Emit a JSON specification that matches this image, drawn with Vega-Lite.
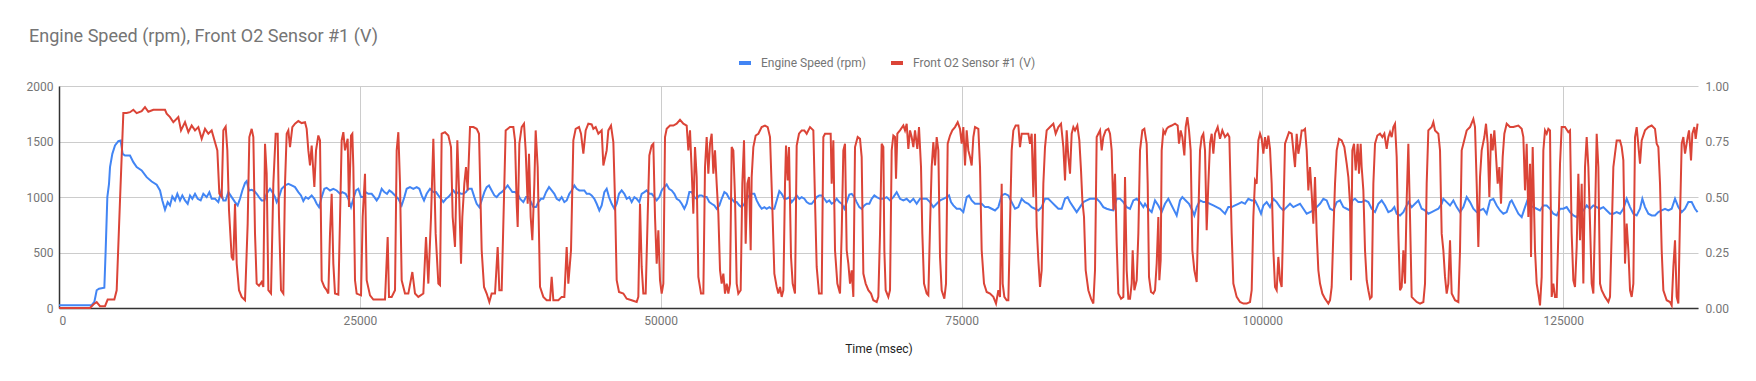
{
"$schema": "https://vega.github.io/schema/vega-lite/v6.json",
"width": 1639,
"height": 222,
"autosize": {"type": "none"},
"padding": {"left": 59, "top": 86, "right": 58, "bottom": 73},
"background": "white",
"title": {"text": "Engine Speed (rpm), Front O2 Sensor #1 (V)", "anchor": "start", "fontSize": 18, "font": "Roboto", "fontWeight": "normal", "color": "#757575", "dx": 3, "offset": 9},
"config": {"font": "Roboto", "view": {"stroke": null}},
"datasets": {
"rpm": [
{"t":0,"v":25},{"t":2715,"v":25},{"t":2937,"v":54},{"t":3131,"v":160},{"t":3324,"v":174},{"t":3768,"v":183},{"t":3878,"v":519},{"t":4017,"v":999},{"t":4155,"v":1119},{"t":4239,"v":1269},{"t":4432,"v":1389},{"t":4654,"v":1464},{"t":4931,"v":1503},{"t":5125,"v":1509},{"t":5291,"v":1389},{"t":5485,"v":1374},{"t":5900,"v":1374},{"t":6178,"v":1314},{"t":6455,"v":1269},{"t":6870,"v":1239},{"t":7286,"v":1179},{"t":7701,"v":1140},{"t":8117,"v":1110},{"t":8394,"v":1059},{"t":8587,"v":969},{"t":8809,"v":885},{"t":9031,"v":954},{"t":9225,"v":924},{"t":9418,"v":1005},{"t":9640,"v":969},{"t":9834,"v":1029},{"t":10056,"v":969},{"t":10250,"v":1014},{"t":10471,"v":969},{"t":10693,"v":939},{"t":10887,"v":1014},{"t":11081,"v":984},{"t":11302,"v":1029},{"t":11524,"v":984},{"t":11773,"v":969},{"t":11994,"v":1029},{"t":12272,"v":999},{"t":12493,"v":1044},{"t":12687,"v":984},{"t":12964,"v":984},{"t":13241,"v":954},{"t":13463,"v":1044},{"t":13657,"v":969},{"t":13850,"v":969},{"t":14072,"v":1044},{"t":14349,"v":999},{"t":14626,"v":954},{"t":14848,"v":924},{"t":15042,"v":984},{"t":15236,"v":1059},{"t":15457,"v":1125},{"t":15596,"v":1143},{"t":15790,"v":1059},{"t":16011,"v":1065},{"t":16233,"v":1053},{"t":16427,"v":1029},{"t":16620,"v":999},{"t":16842,"v":969},{"t":17064,"v":969},{"t":17258,"v":1029},{"t":17535,"v":1074},{"t":17728,"v":1044},{"t":17950,"v":999},{"t":18089,"v":954},{"t":18282,"v":999},{"t":18504,"v":1074},{"t":18781,"v":1104},{"t":19058,"v":1119},{"t":19335,"v":1104},{"t":19612,"v":1089},{"t":19889,"v":1044},{"t":20111,"v":1014},{"t":20304,"v":963},{"t":20498,"v":999},{"t":20720,"v":984},{"t":20997,"v":1014},{"t":21219,"v":984},{"t":21413,"v":939},{"t":21607,"v":909},{"t":21828,"v":999},{"t":22050,"v":1074},{"t":22244,"v":1083},{"t":22521,"v":1059},
{"t":22797,"v":1074},{"t":23074,"v":1059},{"t":23352,"v":1029},{"t":23545,"v":1044},{"t":23822,"v":1029},{"t":24044,"v":984},{"t":24266,"v":909},{"t":24460,"v":984},{"t":24681,"v":1059},{"t":24875,"v":1074},{"t":25097,"v":999},{"t":25291,"v":999},{"t":25485,"v":1044},{"t":25706,"v":1029},{"t":25983,"v":1029},{"t":26205,"v":999},{"t":26399,"v":969},{"t":26592,"v":999},{"t":26814,"v":1074},{"t":27036,"v":1044},{"t":27257,"v":1029},{"t":27451,"v":1059},{"t":27645,"v":1044},{"t":27922,"v":1014},{"t":28199,"v":984},{"t":28476,"v":924},{"t":28698,"v":999},{"t":28892,"v":1074},{"t":29169,"v":1089},{"t":29446,"v":1074},{"t":29722,"v":1089},{"t":29944,"v":1074},{"t":30138,"v":1014},{"t":30332,"v":969},{"t":30553,"v":1029},{"t":30830,"v":1074},{"t":31108,"v":1044},{"t":31329,"v":1044},{"t":31523,"v":1014},{"t":31745,"v":984},{"t":31939,"v":954},{"t":32160,"v":984},{"t":32354,"v":999},{"t":32576,"v":1029},{"t":32770,"v":1059},{"t":32991,"v":1029},{"t":33185,"v":1044},{"t":33407,"v":1029},{"t":33600,"v":1029},{"t":33822,"v":1044},{"t":34016,"v":1074},{"t":34293,"v":1074},{"t":34515,"v":999},{"t":34709,"v":939},{"t":34930,"v":909},{"t":35124,"v":969},{"t":35346,"v":1044},{"t":35540,"v":1089},{"t":35733,"v":1104},{"t":35955,"v":1059},{"t":36177,"v":1014},{"t":36370,"v":999},{"t":36592,"v":1029},{"t":36786,"v":1044},{"t":37063,"v":1074},{"t":37285,"v":1104},{"t":37479,"v":1074},{"t":37672,"v":1044},{"t":37894,"v":1044},{"t":38116,"v":1029},{"t":38310,"v":984},{"t":38587,"v":954},{"t":38808,"v":999},{"t":39002,"v":999},{"t":39224,"v":954},{"t":39418,"v":909},{"t":39639,"v":909},{"t":39833,"v":954},{"t":40055,"v":984},{"t":40249,"v":984},{"t":40471,"v":1044},{"t":40720,"v":1089},{"t":40941,"v":1059},{"t":41163,"v":1029},{"t":41357,"v":984},{"t":41578,"v":969},{"t":41772,"v":999},{"t":41994,"v":954},{"t":42188,"v":969},{"t":42409,"v":1029},{"t":42603,"v":1059},{"t":42825,"v":1104},{"t":43019,"v":1074},{"t":43240,"v":1059},{"t":43434,"v":1059},{"t":43656,"v":1059},{"t":43850,"v":1029},{"t":44071,"v":1029},{"t":44265,"v":1014},{"t":44487,"v":984},{"t":44681,"v":939},{"t":44902,"v":879},{"t":45096,"v":924},{"t":45318,"v":1044},
{"t":45512,"v":1074},{"t":45706,"v":999},{"t":45927,"v":939},{"t":46149,"v":894},{"t":46343,"v":939},{"t":46537,"v":1029},{"t":46758,"v":1059},{"t":46980,"v":1029},{"t":47174,"v":984},{"t":47395,"v":999},{"t":47589,"v":954},{"t":47811,"v":999},{"t":48005,"v":984},{"t":48226,"v":954},{"t":48420,"v":1029},{"t":48642,"v":1044},{"t":48836,"v":1059},{"t":49057,"v":1029},{"t":49251,"v":1029},{"t":49473,"v":999},{"t":49667,"v":969},{"t":49888,"v":999},{"t":50082,"v":1059},{"t":50304,"v":1089},{"t":50498,"v":1113},{"t":50691,"v":1074},{"t":50913,"v":1059},{"t":51135,"v":1029},{"t":51329,"v":984},{"t":51550,"v":969},{"t":51744,"v":939},{"t":51966,"v":894},{"t":52160,"v":939},{"t":52381,"v":1044},{"t":52575,"v":1044},{"t":52797,"v":999},{"t":52991,"v":984},{"t":53212,"v":1014},{"t":53406,"v":1014},{"t":53628,"v":999},{"t":53822,"v":999},{"t":54043,"v":954},{"t":54237,"v":939},{"t":54459,"v":924},{"t":54653,"v":894},{"t":54874,"v":924},{"t":55068,"v":984},{"t":55290,"v":1044},{"t":55484,"v":1029},{"t":55705,"v":984},{"t":55899,"v":984},{"t":56121,"v":954},{"t":56315,"v":954},{"t":56536,"v":924},{"t":56730,"v":909},{"t":56952,"v":939},{"t":57146,"v":984},{"t":57367,"v":1014},{"t":57561,"v":1029},{"t":57783,"v":1029},{"t":57977,"v":969},{"t":58198,"v":924},{"t":58392,"v":894},{"t":58614,"v":909},{"t":58808,"v":894},{"t":59030,"v":909},{"t":59223,"v":894},{"t":59445,"v":894},{"t":59639,"v":969},{"t":59860,"v":1053},{"t":60054,"v":1029},{"t":60276,"v":984},{"t":60470,"v":984},{"t":60691,"v":999},{"t":60885,"v":954},{"t":61107,"v":984},{"t":61301,"v":1014},{"t":61522,"v":984},{"t":61716,"v":999},{"t":61938,"v":984},{"t":62132,"v":954},{"t":62353,"v":939},{"t":62547,"v":939},{"t":62769,"v":969},{"t":62963,"v":999},{"t":63184,"v":1014},{"t":63378,"v":1014},{"t":63600,"v":984},{"t":63794,"v":954},{"t":64015,"v":969},{"t":64209,"v":939},{"t":64431,"v":954},{"t":64625,"v":984},{"t":64846,"v":954},{"t":65040,"v":939},{"t":65262,"v":894},{"t":65456,"v":954},{"t":65677,"v":1023},{"t":65871,"v":1029},{"t":66093,"v":999},{"t":66287,"v":954},{"t":66508,"v":909},{"t":66702,"v":894},{"t":66924,"v":924},{"t":67118,"v":939},{"t":67340,"v":939},{"t":67533,"v":984},{"t":67755,"v":1014},
{"t":67949,"v":999},{"t":68226,"v":984},{"t":68503,"v":984},{"t":68780,"v":999},{"t":69057,"v":969},{"t":69334,"v":999},{"t":69611,"v":1044},{"t":69888,"v":984},{"t":70165,"v":969},{"t":70442,"v":984},{"t":70719,"v":954},{"t":70996,"v":984},{"t":71273,"v":939},{"t":71550,"v":984},{"t":71827,"v":984},{"t":72104,"v":984},{"t":72381,"v":954},{"t":72658,"v":909},{"t":72935,"v":939},{"t":73212,"v":969},{"t":73489,"v":984},{"t":73766,"v":999},{"t":73959,"v":1014},{"t":74126,"v":954},{"t":74320,"v":924},{"t":74597,"v":894},{"t":74874,"v":894},{"t":75151,"v":864},{"t":75428,"v":999},{"t":75621,"v":1014},{"t":75843,"v":969},{"t":76120,"v":939},{"t":76397,"v":939},{"t":76674,"v":939},{"t":76951,"v":909},{"t":77228,"v":909},{"t":77505,"v":894},{"t":77782,"v":879},{"t":78059,"v":909},{"t":78336,"v":1014},{"t":78613,"v":1029},{"t":78890,"v":1014},{"t":79167,"v":954},{"t":79444,"v":894},{"t":79721,"v":909},{"t":79998,"v":984},{"t":80275,"v":954},{"t":80552,"v":939},{"t":80829,"v":909},{"t":81106,"v":894},{"t":81383,"v":879},{"t":81660,"v":909},{"t":81937,"v":984},{"t":82214,"v":984},{"t":82491,"v":954},{"t":82768,"v":924},{"t":83045,"v":894},{"t":83322,"v":894},{"t":83599,"v":984},{"t":83821,"v":999},{"t":84015,"v":954},{"t":84292,"v":909},{"t":84569,"v":864},{"t":84846,"v":909},{"t":85123,"v":954},{"t":85400,"v":969},{"t":85677,"v":984},{"t":85954,"v":984},{"t":86231,"v":984},{"t":86508,"v":954},{"t":86785,"v":909},{"t":87062,"v":894},{"t":87339,"v":885},{"t":87616,"v":879},{"t":87893,"v":984},{"t":88170,"v":984},{"t":88447,"v":954},{"t":88724,"v":909},{"t":89001,"v":894},{"t":89278,"v":969},{"t":89555,"v":984},{"t":89832,"v":954},{"t":90109,"v":909},
{"t":90247,"v":939},{"t":90524,"v":894},{"t":90801,"v":864},{"t":91078,"v":969},{"t":91355,"v":924},{"t":91632,"v":864},{"t":91909,"v":939},{"t":92186,"v":984},{"t":92463,"v":924},{"t":92740,"v":864},{"t":92879,"v":834},{"t":93156,"v":969},{"t":93349,"v":999},{"t":93626,"v":969},{"t":93903,"v":939},{"t":94180,"v":879},{"t":94347,"v":834},{"t":94541,"v":909},{"t":94818,"v":969},{"t":95095,"v":954},{"t":95372,"v":954},{"t":95649,"v":939},{"t":95926,"v":924},{"t":96203,"v":909},{"t":96480,"v":894},{"t":96757,"v":864},{"t":96895,"v":849},{"t":97172,"v":909},{"t":97449,"v":909},{"t":97726,"v":924},{"t":98003,"v":939},{"t":98280,"v":954},{"t":98557,"v":939},{"t":98834,"v":984},{"t":99111,"v":969},{"t":99388,"v":969},{"t":99665,"v":909},{"t":99887,"v":849},{"t":100081,"v":924},{"t":100358,"v":954},{"t":100635,"v":909},{"t":100912,"v":984},{"t":101189,"v":954},{"t":101466,"v":909},{"t":101743,"v":879},{"t":102020,"v":909},{"t":102297,"v":939},{"t":102574,"v":909},{"t":102851,"v":924},{"t":103128,"v":939},{"t":103405,"v":894},{"t":103682,"v":849},{"t":103959,"v":864},{"t":104236,"v":879},{"t":104513,"v":909},{"t":104790,"v":939},{"t":105067,"v":984},{"t":105344,"v":969},{"t":105621,"v":894},{"t":105898,"v":879},{"t":106175,"v":954},{"t":106452,"v":969},{"t":106729,"v":909},{"t":107006,"v":894},{"t":107283,"v":879},{"t":107477,"v":969},{"t":107698,"v":984},{"t":107975,"v":954},{"t":108252,"v":954},{"t":108529,"v":969},{"t":108806,"v":954},{"t":109083,"v":894},{"t":109360,"v":864},{"t":109637,"v":939},{"t":109914,"v":969},{"t":110191,"v":924},{"t":110468,"v":864},{"t":110745,"v":879},{"t":110967,"v":909},{"t":111161,"v":849},{"t":111438,"v":834},{"t":111715,"v":864},
{"t":111853,"v":894},{"t":112130,"v":954},{"t":112407,"v":909},{"t":112684,"v":939},{"t":112961,"v":969},{"t":113238,"v":894},{"t":113515,"v":879},{"t":113792,"v":849},{"t":114069,"v":864},{"t":114346,"v":879},{"t":114623,"v":894},{"t":114900,"v":939},{"t":115039,"v":984},{"t":115316,"v":954},{"t":115593,"v":924},{"t":115870,"v":969},{"t":116147,"v":909},{"t":116424,"v":864},{"t":116701,"v":909},{"t":116978,"v":999},{"t":117255,"v":954},{"t":117532,"v":894},{"t":117809,"v":864},{"t":118086,"v":879},{"t":118363,"v":894},{"t":118640,"v":849},{"t":118917,"v":969},{"t":119194,"v":984},{"t":119471,"v":924},{"t":119748,"v":879},{"t":120025,"v":849},{"t":120302,"v":864},{"t":120579,"v":954},{"t":120717,"v":969},{"t":120994,"v":909},{"t":121271,"v":849},{"t":121548,"v":819},{"t":121825,"v":909},{"t":122019,"v":969},{"t":122241,"v":924},{"t":122518,"v":909},{"t":122795,"v":894},{"t":123072,"v":879},{"t":123349,"v":924},{"t":123626,"v":924},{"t":123903,"v":894},{"t":124180,"v":849},{"t":124457,"v":834},{"t":124734,"v":894},{"t":125011,"v":894},{"t":125288,"v":909},{"t":125565,"v":864},{"t":125842,"v":834},{"t":126119,"v":819},{"t":126396,"v":864},{"t":126673,"v":879},{"t":126950,"v":924},{"t":127227,"v":894},{"t":127504,"v":924},{"t":127781,"v":909},{"t":128058,"v":894},{"t":128335,"v":909},{"t":128612,"v":879},{"t":128889,"v":849},{"t":129166,"v":849},{"t":129443,"v":864},{"t":129720,"v":849},{"t":129997,"v":894},{"t":130274,"v":984},{"t":130551,"v":909},{"t":130828,"v":849},{"t":131105,"v":834},{"t":131382,"v":894},{"t":131575,"v":984},{"t":131797,"v":909},{"t":132074,"v":849},{"t":132351,"v":834},{"t":132628,"v":834},{"t":132905,"v":864},{"t":133182,"v":879},{"t":133459,"v":894},{"t":133736,"v":879},{"t":134013,"v":894},{"t":134290,"v":984},{"t":134567,"v":909},{"t":134844,"v":864},{"t":135121,"v":894},{"t":135398,"v":954},{"t":135675,"v":954},{"t":135952,"v":894},{"t":136164,"v":864}
],
"o2": [
{"t":0,"v":0},{"t":2577,"v":0},{"t":2854,"v":0.016},{"t":3131,"v":0.027},{"t":3408,"v":0.008},{"t":3823,"v":0.008},{"t":4045,"v":0.038},{"t":4599,"v":0.038},{"t":4793,"v":0.08},{"t":5070,"v":0.485},{"t":5347,"v":0.878},{"t":5624,"v":0.878},{"t":5900,"v":0.882},{"t":6178,"v":0.893},{"t":6455,"v":0.878},{"t":6870,"v":0.887},{"t":7147,"v":0.905},{"t":7424,"v":0.884},{"t":7840,"v":0.893},{"t":8255,"v":0.893},{"t":8809,"v":0.893},{"t":8948,"v":0.875},{"t":9225,"v":0.86},{"t":9502,"v":0.837},{"t":9917,"v":0.86},{"t":10139,"v":0.8},{"t":10471,"v":0.837},{"t":10748,"v":0.792},{"t":11025,"v":0.822},{"t":11302,"v":0.8},{"t":11579,"v":0.815},{"t":11856,"v":0.762},{"t":12133,"v":0.807},{"t":12410,"v":0.785},{"t":12687,"v":0.8},{"t":12964,"v":0.747},{"t":13158,"v":0.71},{"t":13324,"v":0.515},{"t":13518,"v":0.5},{"t":13657,"v":0.8},{"t":13850,"v":0.817},{"t":13989,"v":0.71},{"t":14127,"v":0.44},{"t":14349,"v":0.23},{"t":14488,"v":0.215},{"t":14626,"v":0.47},{"t":14765,"v":0.2},{"t":14958,"v":0.08},{"t":15180,"v":0.05},{"t":15457,"v":0.035},{"t":15679,"v":0.38},{"t":15817,"v":0.77},{"t":16011,"v":0.807},{"t":16150,"v":0.77},{"t":16288,"v":0.335},{"t":16427,"v":0.11},{"t":16620,"v":0.1},{"t":16842,"v":0.117},{"t":16980,"v":0.095},{"t":17119,"v":0.74},{"t":17258,"v":0.605},{"t":17396,"v":0.08},{"t":17618,"v":0.065},{"t":17812,"v":0.56},{"t":18006,"v":0.785},{"t":18172,"v":0.785},{"t":18282,"v":0.41},{"t":18449,"v":0.08},{"t":18642,"v":0.065},{"t":18781,"v":0.56},{"t":18920,"v":0.785},{"t":19058,"v":0.8},{"t":19197,"v":0.725},{"t":19390,"v":0.815},{"t":19612,"v":0.83},{"t":19889,"v":0.842},{"t":20166,"v":0.833},{"t":20443,"v":0.837},{"t":20582,"v":0.807},{"t":20720,"v":0.71},{"t":20858,"v":0.642},{"t":20997,"v":0.732},{"t":21219,"v":0.545},{"t":21358,"v":0.71},{"t":21551,"v":0.777},{"t":21690,"v":0.755},{"t":21828,"v":0.125},{"t":22050,"v":0.095},{"t":22244,"v":0.08},
{"t":22382,"v":0.065},{"t":22520,"v":0.335},{"t":22659,"v":0.515},{"t":22797,"v":0.2},{"t":22936,"v":0.065},{"t":23213,"v":0.06},{"t":23352,"v":0.4},{"t":23490,"v":0.755},{"t":23629,"v":0.792},{"t":23767,"v":0.71},{"t":23989,"v":0.762},{"t":24099,"v":0.455},{"t":24266,"v":0.777},{"t":24376,"v":0.785},{"t":24460,"v":0.635},{"t":24598,"v":0.125},{"t":24737,"v":0.065},{"t":25097,"v":0.057},{"t":25235,"v":0.41},{"t":25429,"v":0.605},{"t":25567,"v":0.125},{"t":25845,"v":0.057},{"t":26122,"v":0.038},{"t":27091,"v":0.038},{"t":27313,"v":0.32},{"t":27423,"v":0.05},{"t":27645,"v":0.05},{"t":27922,"v":0.08},{"t":28061,"v":0.71},{"t":28199,"v":0.792},{"t":28338,"v":0.56},{"t":28476,"v":0.125},{"t":28753,"v":0.065},{"t":29030,"v":0.065},{"t":29363,"v":0.162},{"t":29584,"v":0.065},{"t":29861,"v":0.05},{"t":30277,"v":0.065},{"t":30498,"v":0.32},{"t":30692,"v":0.11},{"t":30914,"v":0.41},{"t":31108,"v":0.762},{"t":31301,"v":0.335},{"t":31523,"v":0.11},{"t":31662,"v":0.103},{"t":31800,"v":0.785},{"t":32077,"v":0.792},{"t":32354,"v":0.777},{"t":32576,"v":0.725},{"t":32714,"v":0.41},{"t":32908,"v":0.275},{"t":33102,"v":0.755},{"t":33240,"v":0.53},{"t":33407,"v":0.2},{"t":33516,"v":0.41},{"t":33683,"v":0.56},{"t":33822,"v":0.635},{"t":33960,"v":0.53},{"t":34155,"v":0.815},{"t":34432,"v":0.815},{"t":34709,"v":0.807},{"t":34902,"v":0.785},{"t":35124,"v":0.26},{"t":35318,"v":0.095},{"t":35540,"v":0.065},{"t":35761,"v":0.027},{"t":35955,"v":0.065},{"t":36232,"v":0.065},{"t":36454,"v":0.275},{"t":36592,"v":0.08},{"t":36786,"v":0.08},{"t":37008,"v":0.56},{"t":37118,"v":0.8},{"t":37479,"v":0.815},{"t":37756,"v":0.815},{"t":37894,"v":0.755},{"t":38033,"v":0.47},{"t":38116,"v":0.365},{"t":38254,"v":0.74},{"t":38448,"v":0.815},{"t":38642,"v":0.83},{"t":38780,"v":0.71},{"t":38947,"v":0.47},{"t":39057,"v":0.695},{"t":39196,"v":0.41},{"t":39334,"v":0.305},{"t":39501,"v":0.56},{"t":39611,"v":0.8},{"t":39778,"v":0.635},{"t":39972,"v":0.095},{"t":40249,"v":0.05},{"t":40526,"v":0.035},{"t":40803,"v":0.035},{"t":40941,"v":0.14},{"t":41080,"v":0.035},{"t":41495,"v":0.035},{"t":41772,"v":0.05},{"t":41994,"v":0.05},{"t":42188,"v":0.275},{"t":42326,"v":0.11},{"t":42548,"v":0.26},{"t":42742,"v":0.755},{"t":42935,"v":0.807},{"t":43212,"v":0.815},{"t":43379,"v":0.785},{"t":43573,"v":0.695},{"t":43766,"v":0.8},{"t":43988,"v":0.83},{"t":44265,"v":0.827},{"t":44404,"v":0.807},{"t":44598,"v":0.815},{"t":44820,"v":0.785},{"t":45096,"v":0.8},{"t":45235,"v":0.642},
{"t":45512,"v":0.71},{"t":45650,"v":0.8},{"t":45872,"v":0.822},{"t":46066,"v":0.747},{"t":46204,"v":0.485},{"t":46343,"v":0.125},{"t":46536,"v":0.072},{"t":46897,"v":0.065},{"t":47174,"v":0.042},{"t":47589,"v":0.035},{"t":48005,"v":0.027},{"t":48143,"v":0.05},{"t":48282,"v":0.47},{"t":48420,"v":0.185},{"t":48559,"v":0.065},{"t":48752,"v":0.065},{"t":48918,"v":0.41},{"t":49057,"v":0.687},{"t":49251,"v":0.732},{"t":49390,"v":0.74},{"t":49528,"v":0.41},{"t":49667,"v":0.2},{"t":49805,"v":0.35},{"t":49944,"v":0.125},{"t":50082,"v":0.065},{"t":50221,"v":0.11},{"t":50359,"v":0.77},{"t":50498,"v":0.807},{"t":50775,"v":0.822},{"t":51052,"v":0.822},{"t":51329,"v":0.83},{"t":51606,"v":0.848},{"t":51883,"v":0.83},{"t":52160,"v":0.822},{"t":52298,"v":0.71},{"t":52437,"v":0.8},{"t":52575,"v":0.62},{"t":52714,"v":0.425},{"t":52852,"v":0.725},{"t":52991,"v":0.59},{"t":53129,"v":0.14},{"t":53351,"v":0.065},{"t":53545,"v":0.065},{"t":53683,"v":0.635},{"t":53822,"v":0.77},{"t":53960,"v":0.605},{"t":54099,"v":0.74},{"t":54237,"v":0.785},{"t":54376,"v":0.605},{"t":54514,"v":0.71},{"t":54653,"v":0.56},{"t":54791,"v":0.425},{"t":54930,"v":0.17},{"t":55068,"v":0.11},{"t":55207,"v":0.155},{"t":55345,"v":0.065},{"t":55484,"v":0.11},{"t":55622,"v":0.065},{"t":55761,"v":0.11},{"t":55899,"v":0.725},{"t":56038,"v":0.71},{"t":56176,"v":0.5},{"t":56315,"v":0.11},{"t":56453,"v":0.065},{"t":56647,"v":0.08},{"t":56785,"v":0.56},{"t":56924,"v":0.755},{"t":57062,"v":0.29},{"t":57201,"v":0.56},{"t":57339,"v":0.59},{"t":57478,"v":0.26},{"t":57561,"v":0.59},{"t":57700,"v":0.725},{"t":57893,"v":0.777},{"t":58115,"v":0.785},{"t":58392,"v":0.815},{"t":58669,"v":0.822},{"t":58891,"v":0.815},{"t":59085,"v":0.77},{"t":59278,"v":0.455},{"t":59445,"v":0.155},{"t":59639,"v":0.095},{"t":59777,"v":0.065},{"t":59916,"v":0.095},{"t":60054,"v":0.05},{"t":60193,"v":0.08},{"t":60331,"v":0.56},{"t":60414,"v":0.732},{"t":60553,"v":0.575},{"t":60663,"v":0.725},{"t":60830,"v":0.23},{"t":60968,"v":0.11},{"t":61162,"v":0.065},{"t":61301,"v":0.732},{"t":61494,"v":0.785},{"t":61716,"v":0.8},{"t":61938,"v":0.8},{"t":62132,"v":0.785},{"t":62409,"v":0.815},{"t":62686,"v":0.8},{"t":62824,"v":0.485},{"t":62963,"v":0.185},{"t":63156,"v":0.065},{"t":63378,"v":0.065},{"t":63517,"v":0.77},{"t":63655,"v":0.785},{"t":63932,"v":0.785},{"t":64126,"v":0.785},{"t":64209,"v":0.56},{"t":64348,"v":0.755},{"t":64486,"v":0.26},{"t":64680,"v":0.11},{"t":64902,"v":0.065},{"t":65040,"v":0.335},{"t":65179,"v":0.71},{"t":65317,"v":0.74},{"t":65456,"v":0.26},{"t":65594,"v":0.2},{"t":65733,"v":0.11},{"t":65871,"v":0.17},{"t":66010,"v":0.05},{"t":66148,"v":0.725},{"t":66370,"v":0.77},{"t":66564,"v":0.762},{"t":66702,"v":0.68},{"t":66841,"v":0.155},{"t":67034,"v":0.11},{"t":67256,"v":0.08},{"t":67478,"v":0.065},{"t":67672,"v":0.035},
{"t":67949,"v":0.027},{"t":68087,"v":0.05},{"t":68226,"v":0.335},{"t":68364,"v":0.74},{"t":68503,"v":0.725},{"t":68586,"v":0.26},{"t":68696,"v":0.08},{"t":68918,"v":0.05},{"t":69057,"v":0.08},{"t":69195,"v":0.71},{"t":69334,"v":0.777},{"t":69472,"v":0.77},{"t":69555,"v":0.582},{"t":69666,"v":0.785},{"t":69888,"v":0.8},{"t":70165,"v":0.822},{"t":70303,"v":0.8},{"t":70442,"v":0.83},{"t":70580,"v":0.717},{"t":70719,"v":0.8},{"t":70857,"v":0.77},{"t":70996,"v":0.725},{"t":71134,"v":0.8},{"t":71328,"v":0.717},{"t":71466,"v":0.815},{"t":71633,"v":0.635},{"t":71743,"v":0.335},{"t":71882,"v":0.11},{"t":72104,"v":0.065},{"t":72242,"v":0.057},{"t":72381,"v":0.365},{"t":72519,"v":0.635},{"t":72658,"v":0.747},{"t":72796,"v":0.642},{"t":72935,"v":0.77},{"t":73073,"v":0.71},{"t":73212,"v":0.23},{"t":73350,"v":0.08},{"t":73572,"v":0.042},{"t":73710,"v":0.11},{"t":73849,"v":0.74},{"t":74043,"v":0.777},{"t":74236,"v":0.8},{"t":74458,"v":0.815},{"t":74680,"v":0.837},{"t":74874,"v":0.807},{"t":75012,"v":0.74},{"t":75151,"v":0.815},{"t":75289,"v":0.642},{"t":75428,"v":0.8},{"t":75566,"v":0.71},{"t":75705,"v":0.68},{"t":75843,"v":0.642},{"t":75982,"v":0.77},{"t":76120,"v":0.815},{"t":76397,"v":0.807},{"t":76536,"v":0.635},{"t":76674,"v":0.26},{"t":76868,"v":0.11},{"t":77090,"v":0.072},{"t":77367,"v":0.065},{"t":77644,"v":0.05},{"t":77865,"v":0.02},{"t":78059,"v":0.08},{"t":78198,"v":0.05},{"t":78336,"v":0.56},{"t":78419,"v":0.11},{"t":78558,"v":0.05},{"t":78752,"v":0.035},{"t":78890,"v":0.035},{"t":79029,"v":0.38},{"t":79167,"v":0.71},{"t":79306,"v":0.8},{"t":79499,"v":0.822},{"t":79721,"v":0.822},{"t":79860,"v":0.725},{"t":79998,"v":0.785},{"t":80275,"v":0.785},{"t":80552,"v":0.785},{"t":80691,"v":0.74},{"t":80829,"v":0.785},{"t":80968,"v":0.5},{"t":81106,"v":0.785},{"t":81245,"v":0.365},{"t":81383,"v":0.215},{"t":81522,"v":0.095},{"t":81660,"v":0.17},{"t":81799,"v":0.56},{"t":81937,"v":0.725},{"t":82076,"v":0.8},{"t":82353,"v":0.815},{"t":82630,"v":0.83},{"t":82823,"v":0.785},{"t":83045,"v":0.815},{"t":83267,"v":0.83},{"t":83461,"v":0.725},{"t":83599,"v":0.575},{"t":83738,"v":0.8},{"t":83876,"v":0.68},{"t":84015,"v":0.605},{"t":84153,"v":0.785},{"t":84292,"v":0.815},{"t":84430,"v":0.8},{"t":84624,"v":0.822},{"t":84790,"v":0.755},{"t":84929,"v":0.62},{"t":85040,"v":0.485},{"t":85178,"v":0.41},{"t":85317,"v":0.17},{"t":85538,"v":0.08},{"t":85760,"v":0.042},{"t":85954,"v":0.02},{"t":86092,"v":0.17},{"t":86231,"v":0.77},{"t":86369,"v":0.785},{"t":86508,"v":0.8},{"t":86646,"v":0.71},{"t":86785,"v":0.77},{"t":86979,"v":0.8},{"t":87200,"v":0.807},{"t":87339,"v":0.785},{"t":87477,"v":0.71},{"t":87616,"v":0.44},{"t":87754,"v":0.605},{"t":87893,"v":0.29},{"t":88031,"v":0.065},{"t":88253,"v":0.042},{"t":88447,"v":0.05},{"t":88585,"v":0.59},{"t":88724,"v":0.17},{"t":88862,"v":0.042},{"t":89001,"v":0.042},{"t":89139,"v":0.11},{"t":89222,"v":0.26},{"t":89361,"v":0.08},{"t":89555,"v":0.125},{"t":89693,"v":0.335},{"t":89832,"v":0.71},{"t":90025,"v":0.8},{"t":90192,"v":0.807},
{"t":90386,"v":0.74},{"t":90469,"v":0.56},{"t":90579,"v":0.14},{"t":90746,"v":0.072},{"t":90940,"v":0.065},{"t":91078,"v":0.08},{"t":91217,"v":0.2},{"t":91355,"v":0.41},{"t":91438,"v":0.125},{"t":91549,"v":0.215},{"t":91632,"v":0.71},{"t":91771,"v":0.8},{"t":91909,"v":0.785},{"t":92048,"v":0.807},{"t":92186,"v":0.815},{"t":92463,"v":0.822},{"t":92740,"v":0.83},{"t":92962,"v":0.822},{"t":93072,"v":0.74},{"t":93211,"v":0.8},{"t":93349,"v":0.77},{"t":93516,"v":0.687},{"t":93626,"v":0.815},{"t":93765,"v":0.86},{"t":93903,"v":0.8},{"t":94042,"v":0.71},{"t":94180,"v":0.26},{"t":94347,"v":0.17},{"t":94541,"v":0.117},{"t":94679,"v":0.41},{"t":94818,"v":0.71},{"t":94956,"v":0.77},{"t":95095,"v":0.785},{"t":95233,"v":0.71},{"t":95372,"v":0.35},{"t":95510,"v":0.56},{"t":95649,"v":0.74},{"t":95787,"v":0.785},{"t":95926,"v":0.695},{"t":96064,"v":0.785},{"t":96286,"v":0.815},{"t":96480,"v":0.762},{"t":96673,"v":0.8},{"t":96895,"v":0.77},{"t":97117,"v":0.785},{"t":97255,"v":0.77},{"t":97449,"v":0.335},{"t":97588,"v":0.11},{"t":97865,"v":0.05},{"t":98142,"v":0.027},{"t":98419,"v":0.02},{"t":98696,"v":0.02},{"t":98973,"v":0.027},{"t":99111,"v":0.08},{"t":99250,"v":0.41},{"t":99388,"v":0.575},{"t":99527,"v":0.56},{"t":99665,"v":0.755},{"t":99804,"v":0.785},{"t":99942,"v":0.762},{"t":100081,"v":0.695},{"t":100219,"v":0.77},{"t":100358,"v":0.717},{"t":100496,"v":0.777},{"t":100635,"v":0.717},{"t":100773,"v":0.56},{"t":100912,"v":0.26},{"t":101050,"v":0.095},{"t":101189,"v":0.08},{"t":101327,"v":0.23},{"t":101466,"v":0.125},{"t":101604,"v":0.095},{"t":101743,"v":0.41},{"t":101881,"v":0.74},{"t":102020,"v":0.762},{"t":102213,"v":0.792},{"t":102435,"v":0.785},{"t":102574,"v":0.71},{"t":102712,"v":0.635},{"t":102851,"v":0.785},{"t":102989,"v":0.695},{"t":103128,"v":0.74},{"t":103266,"v":0.8},{"t":103405,"v":0.8},{"t":103543,"v":0.807},{"t":103682,"v":0.71},{"t":103820,"v":0.53},{"t":103959,"v":0.635},{"t":104097,"v":0.515},{"t":104236,"v":0.38},{"t":104374,"v":0.59},{"t":104513,"v":0.335},{"t":104651,"v":0.17},{"t":104790,"v":0.11},{"t":104983,"v":0.065},{"t":105205,"v":0.042},{"t":105482,"v":0.02},{"t":105621,"v":0.035},{"t":105759,"v":0.095},{"t":105898,"v":0.335},{"t":106036,"v":0.56},{"t":106175,"v":0.71},{"t":106368,"v":0.762},{"t":106590,"v":0.755},{"t":106812,"v":0.725},{"t":107006,"v":0.65},{"t":107144,"v":0.59},{"t":107283,"v":0.47},{"t":107366,"v":0.125},{"t":107477,"v":0.71},{"t":107615,"v":0.74},{"t":107754,"v":0.62},{"t":107920,"v":0.74},{"t":108030,"v":0.605},{"t":108169,"v":0.74},{"t":108252,"v":0.635},{"t":108391,"v":0.53},{"t":108529,"v":0.26},{"t":108668,"v":0.125},{"t":108806,"v":0.08},{"t":108945,"v":0.042},{"t":109083,"v":0.05},{"t":109222,"v":0.56},{"t":109360,"v":0.74},{"t":109554,"v":0.777},{"t":109776,"v":0.785},{"t":109969,"v":0.77},{"t":110136,"v":0.785},{"t":110330,"v":0.717},{"t":110468,"v":0.77},{"t":110607,"v":0.792},{"t":110745,"v":0.77},{"t":110884,"v":0.815},{"t":111022,"v":0.83},{"t":111161,"v":0.68},{"t":111299,"v":0.335},{"t":111438,"v":0.08},{"t":111576,"v":0.095},{"t":111715,"v":0.26},
{"t":111853,"v":0.11},{"t":111992,"v":0.485},{"t":112130,"v":0.74},{"t":112269,"v":0.41},{"t":112407,"v":0.05},{"t":112546,"v":0.042},{"t":112823,"v":0.027},{"t":113100,"v":0.02},{"t":113377,"v":0.027},{"t":113515,"v":0.11},{"t":113654,"v":0.56},{"t":113792,"v":0.8},{"t":114069,"v":0.815},{"t":114208,"v":0.837},{"t":114346,"v":0.8},{"t":114623,"v":0.785},{"t":114762,"v":0.71},{"t":114900,"v":0.335},{"t":115039,"v":0.26},{"t":115177,"v":0.14},{"t":115316,"v":0.065},{"t":115454,"v":0.11},{"t":115593,"v":0.305},{"t":115731,"v":0.065},{"t":116008,"v":0.035},{"t":116285,"v":0.027},{"t":116424,"v":0.26},{"t":116562,"v":0.71},{"t":116701,"v":0.74},{"t":116978,"v":0.8},{"t":117255,"v":0.815},{"t":117532,"v":0.852},{"t":117670,"v":0.815},{"t":117809,"v":0.56},{"t":117947,"v":0.275},{"t":118086,"v":0.59},{"t":118224,"v":0.71},{"t":118446,"v":0.77},{"t":118584,"v":0.83},{"t":118723,"v":0.74},{"t":118861,"v":0.5},{"t":119000,"v":0.785},{"t":119138,"v":0.71},{"t":119277,"v":0.8},{"t":119387,"v":0.71},{"t":119554,"v":0.56},{"t":119692,"v":0.635},{"t":119831,"v":0.47},{"t":119969,"v":0.68},{"t":120108,"v":0.785},{"t":120302,"v":0.83},{"t":120579,"v":0.815},{"t":120856,"v":0.815},{"t":121271,"v":0.822},{"t":121548,"v":0.807},{"t":121687,"v":0.77},{"t":121825,"v":0.53},{"t":121964,"v":0.74},{"t":122102,"v":0.41},{"t":122241,"v":0.65},{"t":122324,"v":0.23},{"t":122462,"v":0.725},{"t":122656,"v":0.26},{"t":122795,"v":0.11},{"t":122933,"v":0.065},{"t":123072,"v":0.012},{"t":123210,"v":0.14},{"t":123349,"v":0.71},{"t":123487,"v":0.8},{"t":123626,"v":0.785},{"t":123764,"v":0.807},{"t":123903,"v":0.8},{"t":124041,"v":0.05},{"t":124180,"v":0.11},{"t":124318,"v":0.05},{"t":124457,"v":0.05},{"t":124595,"v":0.335},{"t":124734,"v":0.65},{"t":124872,"v":0.815},{"t":125149,"v":0.815},{"t":125426,"v":0.792},{"t":125565,"v":0.8},{"t":125703,"v":0.335},{"t":125842,"v":0.125},{"t":125980,"v":0.095},{"t":126119,"v":0.275},{"t":126257,"v":0.605},{"t":126396,"v":0.305},{"t":126534,"v":0.56},{"t":126673,"v":0.11},{"t":126811,"v":0.635},{"t":126950,"v":0.77},{"t":127088,"v":0.635},{"t":127227,"v":0.38},{"t":127365,"v":0.11},{"t":127504,"v":0.065},{"t":127642,"v":0.41},{"t":127781,"v":0.785},{"t":127919,"v":0.635},{"t":128058,"v":0.11},{"t":128196,"v":0.08},{"t":128473,"v":0.05},{"t":128750,"v":0.027},{"t":128889,"v":0.05},{"t":129027,"v":0.335},{"t":129166,"v":0.635},{"t":129304,"v":0.695},{"t":129443,"v":0.755},{"t":129720,"v":0.755},{"t":129858,"v":0.725},{"t":129997,"v":0.665},{"t":130135,"v":0.2},{"t":130274,"v":0.38},{"t":130412,"v":0.26},{"t":130551,"v":0.08},{"t":130689,"v":0.05},{"t":130828,"v":0.11},{"t":130966,"v":0.77},{"t":131105,"v":0.815},{"t":131382,"v":0.65},{"t":131520,"v":0.755},{"t":131797,"v":0.8},{"t":132074,"v":0.815},{"t":132351,"v":0.822},{"t":132628,"v":0.807},{"t":132767,"v":0.74},{"t":132905,"v":0.725},{"t":133044,"v":0.56},{"t":133182,"v":0.26},{"t":133321,"v":0.08},{"t":133598,"v":0.035},{"t":133875,"v":0.027},{"t":134013,"v":0.012},{"t":134152,"v":0.185},{"t":134290,"v":0.305},{"t":134429,"v":0.05},{"t":134567,"v":0.02},{"t":134706,"v":0.41},{"t":134844,"v":0.74},{"t":134983,"v":0.77},{"t":135121,"v":0.695},{"t":135343,"v":0.77},{"t":135454,"v":0.8},{"t":135620,"v":0.665},{"t":135731,"v":0.785},{"t":135897,"v":0.815},{"t":136008,"v":0.762},{"t":136164,"v":0.83}
]
},
"layer": [
{
"data": {"name": "rpm"},
"mark": {"type": "line", "strokeWidth": 2, "interpolate": "linear"},
"encoding": {
"x": {"field": "t", "type": "quantitative", "scale": {"domain": [0, 136200], "nice": false, "zero": false},
"axis": {"title": "Time (msec)", "values": [0, 25000, 50000, 75000, 100000, 125000], "format": "d", "grid": true, "gridColor": "#cccccc", "domainColor": "#333333", "domainWidth": 1.5, "ticks": false, "labelFont": "Roboto", "labelFontSize": 12, "labelColor": "#757575", "labelPadding": 7, "titleFont": "Roboto", "titleFontSize": 12, "titleFontWeight": "normal", "titleColor": "#222222", "titlePadding": 17}},
"y": {"field": "v", "type": "quantitative", "scale": {"domain": [0, 2000], "nice": false},
"axis": {"title": null, "orient": "left", "values": [0, 500, 1000, 1500, 2000], "format": "d", "grid": true, "gridColor": "#cccccc", "domainColor": "#333333", "domainWidth": 1.5, "ticks": false, "labelFont": "Roboto", "labelFontSize": 12, "labelColor": "#757575", "labelPadding": 6}},
"color": {"datum": "Engine Speed (rpm)", "type": "nominal",
"scale": {"domain": ["Engine Speed (rpm)", "Front O2 Sensor #1 (V)"], "range": ["#4285F4", "#DB4437"]},
"legend": {"title": null, "orient": "none", "legendX": 678, "legendY": -31, "direction": "horizontal", "symbolType": "stroke", "symbolStrokeWidth": 4, "symbolSize": 144, "labelFont": "Roboto", "labelFontSize": 12, "labelColor": "#757575", "labelOffset": 8, "columnPadding": 16}}
}
},
{
"data": {"name": "o2"},
"mark": {"type": "line", "strokeWidth": 2, "interpolate": "linear"},
"encoding": {
"x": {"field": "t", "type": "quantitative"},
"y": {"field": "v", "type": "quantitative", "scale": {"domain": [0, 1], "nice": false},
"axis": {"title": null, "orient": "right", "values": [0, 0.25, 0.5, 0.75, 1], "format": ".2f", "grid": false, "domain": false, "ticks": false, "labelFont": "Roboto", "labelFontSize": 12, "labelColor": "#757575", "labelPadding": 7}},
"color": {"datum": "Front O2 Sensor #1 (V)", "type": "nominal"}
}
}
],
"resolve": {"scale": {"y": "independent"}}
}
